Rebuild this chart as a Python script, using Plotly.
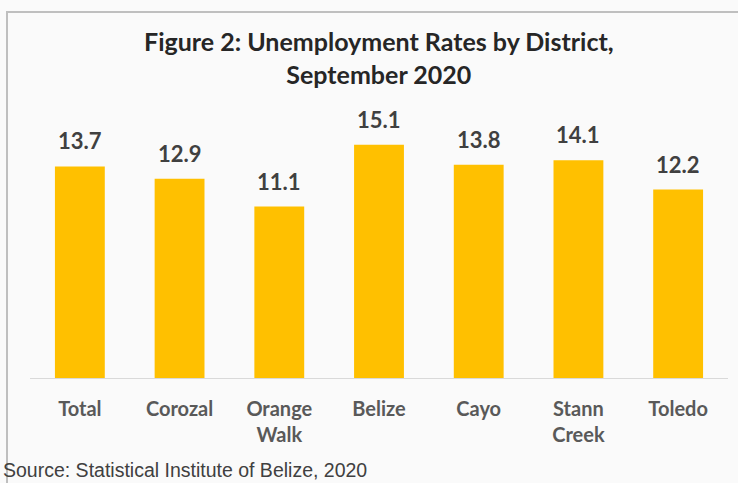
import plotly.graph_objects as go

categories = ["Total", "Corozal", "Orange<br>Walk", "Belize", "Cayo", "Stann<br>Creek", "Toledo"]
rates = [13.7, 12.9, 11.1, 15.1, 13.8, 14.1, 12.2]
title_text = "Figure 2: Unemployment Rates by District,<br>September 2020"
source_text = "Source: Statistical Institute of Belize, 2020"

fig = go.Figure()
fig.add_trace(go.Bar(
    x=categories, y=rates,
    marker=dict(color="#FFC000", line=dict(width=0)),
    hoverinfo="x+y",
))

for c, v in zip(categories, rates):
    fig.add_annotation(
        x=c, y=v, xref="x", yref="y", text=f"{v:.1f}", showarrow=False,
        yanchor="bottom", yshift=10,
        font=dict(family="Lato", size=22, color="#404040", weight="bold"),
    )

fig.add_annotation(
    x=0.5, y=(378 - 57) / 278, xref="paper", yref="paper", text=title_text,
    showarrow=False, xanchor="center", yanchor="middle",
    font=dict(family="Lato", size=25, color="#262626", weight="bold"),
)

fig.add_annotation(
    x=(1 - 30) / 698, y=(378 - 470) / 278, xref="paper", yref="paper",
    text=source_text, showarrow=False, xanchor="left", yanchor="middle",
    font=dict(family="Liberation Sans", size=19.5, color="#404040"),
)

fig.add_shape(
    type="rect", xref="paper", yref="paper",
    x0=(7 - 30) / 698, x1=(760 - 30) / 698,
    y0=(378 - 500) / 278, y1=(378 - 12) / 278,
    line=dict(color="#BFBFBF", width=2), fillcolor="rgba(0,0,0,0)", layer="below",
)

fig.update_layout(
    width=738, height=483,
    margin=dict(l=30, r=10, t=100, b=105),
    paper_bgcolor="#FAFAFA", plot_bgcolor="#FAFAFA",
    bargap=0.5, showlegend=False,
    xaxis=dict(
        showline=True, linecolor="#D9D9D9", linewidth=1,
        ticks="outside", ticklen=13, tickcolor="rgba(0,0,0,0)",
        tickfont=dict(family="Lato", size=20, color="#595959", weight="bold"),
        showgrid=False, zeroline=False,
    ),
    yaxis=dict(range=[0, 18], visible=False, showgrid=False, zeroline=False),
)

fig.write_html("out.html")
